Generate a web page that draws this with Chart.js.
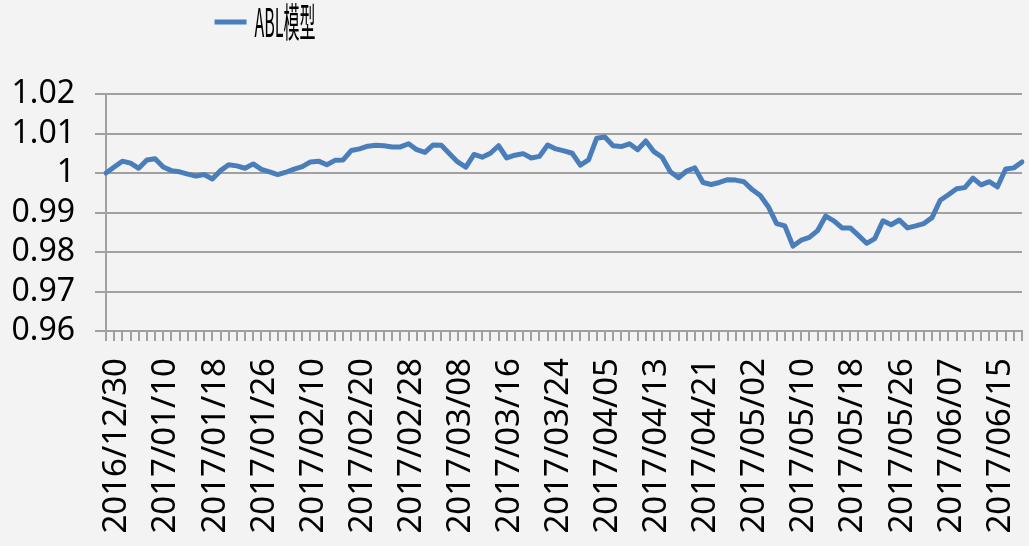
<!DOCTYPE html>
<html><head><meta charset="utf-8">
<script src="https://cdn.jsdelivr.net/npm/chart.js@4.4.1/dist/chart.umd.min.js"></script>
<style>html,body{margin:0;padding:0;background:#f3f3f3;} canvas{display:block;}</style>
</head><body>
<canvas id="c" width="1029" height="546"></canvas>
<script>
const seriesName = 'ABL模型';
const dates = [
'2016/12/30','2017/01/03','2017/01/04','2017/01/05','2017/01/06','2017/01/09','2017/01/10','2017/01/11','2017/01/12','2017/01/13',
'2017/01/16','2017/01/17','2017/01/18','2017/01/19','2017/01/20','2017/01/23','2017/01/24','2017/01/25','2017/01/26','2017/02/03',
'2017/02/06','2017/02/07','2017/02/08','2017/02/09','2017/02/10','2017/02/13','2017/02/14','2017/02/15','2017/02/16','2017/02/17',
'2017/02/20','2017/02/21','2017/02/22','2017/02/23','2017/02/24','2017/02/27','2017/02/28','2017/03/01','2017/03/02','2017/03/03',
'2017/03/06','2017/03/07','2017/03/08','2017/03/09','2017/03/10','2017/03/13','2017/03/14','2017/03/15','2017/03/16','2017/03/17',
'2017/03/20','2017/03/21','2017/03/22','2017/03/23','2017/03/24','2017/03/27','2017/03/28','2017/03/29','2017/03/30','2017/03/31',
'2017/04/05','2017/04/06','2017/04/07','2017/04/10','2017/04/11','2017/04/12','2017/04/13','2017/04/14','2017/04/17','2017/04/18',
'2017/04/19','2017/04/20','2017/04/21','2017/04/24','2017/04/25','2017/04/26','2017/04/27','2017/04/28','2017/05/02','2017/05/03',
'2017/05/04','2017/05/05','2017/05/08','2017/05/09','2017/05/10','2017/05/11','2017/05/12','2017/05/15','2017/05/16','2017/05/17',
'2017/05/18','2017/05/19','2017/05/22','2017/05/23','2017/05/24','2017/05/25','2017/05/26','2017/05/31','2017/06/01','2017/06/02',
'2017/06/05','2017/06/06','2017/06/07','2017/06/08','2017/06/09','2017/06/12','2017/06/13','2017/06/14','2017/06/15','2017/06/16',
'2017/06/19','2017/06/20','2017/06/21'
];
const ablValues = [
1.0000, 1.0015, 1.0030, 1.0025, 1.0012, 1.0033, 1.0036, 1.0015, 1.0006, 1.0003,
0.9997, 0.9992, 0.9996, 0.9985, 1.0006, 1.0021, 1.0018, 1.0012, 1.0023, 1.0009,
1.0003, 0.9996, 1.0002, 1.0010, 1.0016, 1.0028, 1.0030, 1.0021, 1.0032, 1.0033,
1.0057, 1.0061, 1.0068, 1.0070, 1.0069, 1.0066, 1.0066, 1.0074, 1.0059, 1.0052,
1.0071, 1.0070, 1.0049, 1.0028, 1.0015, 1.0047, 1.0040, 1.0050, 1.0069, 1.0038,
1.0045, 1.0049, 1.0038, 1.0042, 1.0071, 1.0061, 1.0056, 1.0050, 1.0020, 1.0033,
1.0088, 1.0091, 1.0069, 1.0067, 1.0074, 1.0059, 1.0081, 1.0054, 1.0040, 1.0003,
0.9988, 1.0005, 1.0013, 0.9976, 0.9971, 0.9976, 0.9983, 0.9982, 0.9978, 0.9958,
0.9943, 0.9914, 0.9872, 0.9866, 0.9815, 0.9830, 0.9837, 0.9854, 0.9891, 0.9879,
0.9861, 0.9861, 0.9842, 0.9822, 0.9834, 0.9879, 0.9869, 0.9881, 0.9861, 0.9866,
0.9872, 0.9887, 0.9931, 0.9945, 0.9960, 0.9963, 0.9987, 0.9970, 0.9978, 0.9965,
1.0010, 1.0013, 1.0028
];
const yMin = 0.96, yMax = 1.02, yStep = 0.01;
const labelEvery = 6;

const lineColor = '#4a7ebb';
const gridColor = '#a0a0a0';
const yTickFont = {family: "'Noto Sans', sans-serif", size: 32};
const xTickFont = {family: "'Noto Sans', sans-serif", size: 33};
const legendScaleX = 0.40;

const legendLayout = {
  id: 'legendLayout',
  beforeLayout(chart) {
    const lg = chart.legend;
    if (lg && !lg.__wrapped) {
      const fit = lg.fit.bind(lg);
      lg.fit = function () { fit(); this.height = 94; };
      const draw = lg.draw.bind(lg);
      lg.draw = function () {
        const ctx = this.ctx;
        const c = (this.left + this.right) / 2;
        ctx.save();
        ctx.translate(265, 0);
        ctx.scale(legendScaleX, 1);
        ctx.translate(-c, 0);
        draw();
        ctx.restore();
      };
      lg.__wrapped = true;
    }
  }
};

new Chart(document.getElementById('c'), {
  type: 'line',
  data: {
    labels: dates,
    datasets: [{
      label: seriesName,
      data: ablValues,
      borderColor: lineColor,
      backgroundColor: lineColor,
      borderWidth: 5,
      pointRadius: 0,
      tension: 0,
      borderJoinStyle: 'round',
      borderCapStyle: 'round',
      fill: false
    }]
  },
  options: {
    responsive: false,
    animation: false,
    devicePixelRatio: 1,
    layout: {padding: {left: 0, right: 7, top: 0, bottom: 0}},
    plugins: {
      legend: {
        display: true,
        position: 'top',
        labels: {
          font: {family: "'Noto Sans CJK SC', sans-serif", size: 40},
          color: '#000',
          boxWidth: 80,
          boxHeight: 5,
          padding: 2,
          generateLabels: (chart) => Chart.defaults.plugins.legend.labels.generateLabels(chart)
            .map(l => Object.assign(l, {lineWidth: 0, fillStyle: lineColor}))
        }
      },
      tooltip: {enabled: false}
    },
    scales: {
      x: {
        type: 'category',
        offset: false,
        grid: {drawOnChartArea: false, drawTicks: true, tickLength: 10, color: gridColor, lineWidth: 2},
        border: {display: true, color: gridColor, width: 2},
        ticks: {
          autoSkip: false, minRotation: 90, maxRotation: 90, padding: 17, labelOffset: 11,
          font: xTickFont, color: '#000',
          callback: (v, i) => (i % labelEvery === 0 ? dates[i] : '')
        },
        afterFit: s => { s.height = 215; s.paddingLeft = 0; s.paddingRight = 0; }
      },
      y: {
        min: yMin, max: yMax,
        grid: {color: gridColor, lineWidth: 2, tickLength: 11, drawTicks: true},
        border: {display: true, color: gridColor, width: 2},
        ticks: {
          stepSize: yStep, autoSkip: false, maxTicksLimit: 20, padding: 20, font: yTickFont, color: '#000',
          callback: v => Number(v.toFixed(2)).toString()
        },
        afterFit: s => { s.width = 106; s.paddingTop = 0; s.paddingBottom = 0; }
      }
    }
  },
  plugins: [legendLayout]
});
</script>
</body></html>
